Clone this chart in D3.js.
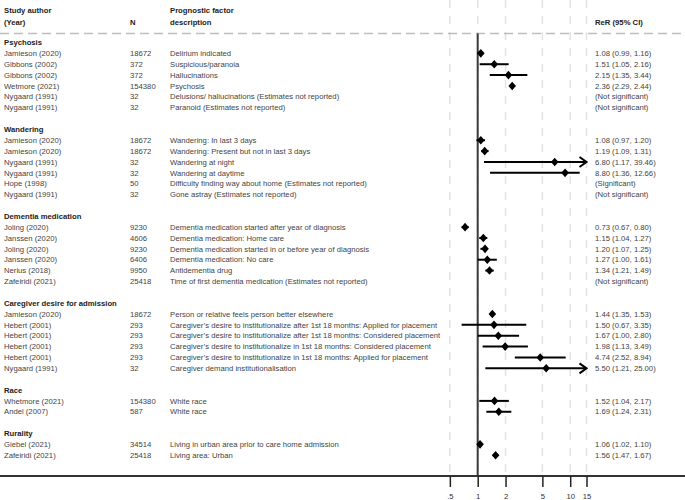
<!DOCTYPE html>
<html>
<head>
<meta charset="utf-8">
<script src="https://cdn.jsdelivr.net/npm/d3@7"></script>
<style>
html,body{margin:0;padding:0;background:#fff;}
svg{display:block;font-family:"Liberation Sans",Arial,sans-serif;}
text{-webkit-font-smoothing:antialiased;}
</style>
</head>
<body>
<svg id="chart" width="685" height="500"></svg>
<script>
const groupNames = ["Psychosis","Wandering","Dementia medication","Caregiver desire for admission","Race","Rurality"];
const groupOf = [0,0,0,0,0,0, 1,1,1,1,1,1, 2,2,2,2,2,2, 3,3,3,3,3,3, 4,4, 5,5];
const authors = ["Jamieson (2020)","Gibbons (2002)","Gibbons (2002)","Wetmore (2021)","Nygaard (1991)","Nygaard (1991)",
  "Jamieson (2020)","Jamieson (2020)","Nygaard (1991)","Nygaard (1991)","Hope (1998)","Nygaard (1991)",
  "Joling (2020)","Janssen (2020)","Joling (2020)","Janssen (2020)","Nerius (2018)","Zafeiridi (2021)",
  "Jamieson (2020)","Hebert (2001)","Hebert (2001)","Hebert (2001)","Hebert (2001)","Nygaard (1991)",
  "Whetmore (2021)","Andel (2007)",
  "Giebel (2021)","Zafeiridi (2021)"];
const ns = ["18672","372","372","154380","32","32",
  "18672","18672","32","32","50","32",
  "9230","4606","9230","6406","9950","25418",
  "18672","293","293","293","293","32",
  "154380","587",
  "34514","25418"];
const descriptions = ["Delirium indicated","Suspicious/paranoia","Hallucinations","Psychosis","Delusions/ hallucinations (Estimates not reported)","Paranoid (Estimates not reported)",
  "Wandering: In last 3 days","Wandering: Present but not in last 3 days","Wandering at night","Wandering at daytime","Difficulty finding way about home (Estimates not reported)","Gone astray (Estimates not reported)",
  "Dementia medication started after year of diagnosis","Dementia medication: Home care","Dementia medication started in or before year of diagnosis","Dementia medication: No care","Antidementia drug","Time of first dementia medication (Estimates not reported)",
  "Person or relative feels person better elsewhere","Caregiver\u2019s desire to institutionalize after 1st 18 months: Applied for placement","Caregiver\u2019s desire to institutionalize after 1st 18 months: Considered placement","Caregiver\u2019s desire to institutionalize in 1st 18 months: Considered placement","Caregiver\u2019s desire to institutionalize in 1st 18 months: Applied for placement","Caregiver demand institutionalisation",
  "White race","White race",
  "Living in urban area prior to care home admission","Living area: Urban"];
const estimates = [1.08,1.51,2.15,2.36,null,null, 1.08,1.19,6.80,8.80,null,null, 0.73,1.15,1.20,1.27,1.34,null, 1.44,1.50,1.67,1.98,4.74,5.50, 1.52,1.69, 1.06,1.56];
const lowers    = [0.99,1.05,1.35,2.29,null,null, 0.97,1.09,1.17,1.36,null,null, 0.67,1.04,1.07,1.00,1.21,null, 1.35,0.67,1.00,1.13,2.52,1.21, 1.04,1.24, 1.02,1.47];
const uppers    = [1.16,2.16,3.44,2.44,null,null, 1.20,1.31,39.46,12.66,null,null, 0.80,1.27,1.25,1.61,1.49,null, 1.53,3.35,2.80,3.49,8.94,25.00, 2.17,2.31, 1.10,1.67];
const ciLabels = ["1.08 (0.99, 1.16)","1.51 (1.05, 2.16)","2.15 (1.35, 3.44)","2.36 (2.29, 2.44)","(Not significant)","(Not significant)",
  "1.08 (0.97, 1.20)","1.19 (1.09, 1.31)","6.80 (1.17, 39.46)","8.80 (1.36, 12.66)","(Significant)","(Not significant)",
  "0.73 (0.67, 0.80)","1.15 (1.04, 1.27)","1.20 (1.07, 1.25)","1.27 (1.00, 1.61)","1.34 (1.21, 1.49)","(Not significant)",
  "1.44 (1.35, 1.53)","1.50 (0.67, 3.35)","1.67 (1.00, 2.80)","1.98 (1.13, 3.49)","4.74 (2.52, 8.94)","5.50 (1.21, 25.00)",
  "1.52 (1.04, 2.17)","1.69 (1.24, 2.31)",
  "1.06 (1.02, 1.10)","1.56 (1.47, 1.67)"];
const xTicks = [0.5,1,2,5,10,15];
const xTickLabels = [".5","1","2","5","10","15"];
const headerCols = [["Study author","(Year)"],["","N"],["Prognostic factor","description"],["","ReR (95% CI)"]];

// build row layout (header rows + blank gaps)
const layout = [];
let idx = 0;
groupNames.forEach((g, gi) => {
  layout.push({type:"header", text:g, row:idx++});
  groupOf.forEach((go, i) => { if (go === gi) layout.push({type:"data", i:i, row:idx++}); });
  idx++; // blank
});
const nRows = idx - 2;

const W = 685, H = 500;
const svg = d3.select("#chart");
const x = d3.scaleLog().domain([0.5, 15]).range([449.85, 586.5]);
const y = d3.scaleLinear().domain([0, nRows]).range([42.5, 455.2]);
const axisY = 476;
const fs = 7.7;
const colX = [4, 130, 170, 595];

// gridlines
svg.append("g").selectAll("line").data(xTicks).join("line")
  .attr("x1", d => x(d)).attr("x2", d => x(d))
  .attr("y1", 0).attr("y2", axisY)
  .attr("stroke", "#e2e2e2").attr("stroke-width", 1.5)
  .attr("stroke-dasharray", "8,8");

// header dashed line
svg.append("line").attr("x1", 0).attr("x2", W).attr("y1", 33.5).attr("y2", 33.5)
  .attr("stroke", "#bdbdbd").attr("stroke-width", 1.5).attr("stroke-dasharray", "9,5");

// null line
svg.append("line").attr("x1", x(1)).attr("x2", x(1)).attr("y1", 33.5).attr("y2", axisY)
  .attr("stroke", "#3a3a3a").attr("stroke-width", 2);

// column headers
const hg = svg.append("g").attr("opacity", 0.999);
headerCols.forEach((pair, ci) => {
  pair.forEach((t, li) => {
    if (!t) return;
    hg.append("text").attr("x", colX[ci]).attr("y", li === 0 ? 10 : 22).attr("dy", "0.35em")
      .attr("font-size", fs).attr("font-weight", "bold").attr("fill", "#222").text(t);
  });
});

// group headers
hg.append("g").selectAll("text").data(layout.filter(d => d.type === "header")).join("text")
  .attr("x", colX[0]).attr("y", d => y(d.row)).attr("dy", "0.35em")
  .attr("font-size", fs).attr("font-weight", "bold").attr("fill", "#222").text(d => d.text);

const dataRows = layout.filter(d => d.type === "data");
const tg = svg.append("g").attr("font-size", fs).attr("fill", "#444").attr("opacity", 0.999);
[authors, ns, descriptions, ciLabels].forEach((arr, ci) => {
  tg.append("g").selectAll("text").data(dataRows).join("text")
    .attr("x", colX[ci]).attr("y", d => y(d.row)).attr("dy", "0.35em")
    .text(d => arr[d.i]);
});

// CIs
const est = dataRows.filter(d => estimates[d.i] != null);
const xMax = 15;
svg.append("g").selectAll("line").data(est).join("line")
  .attr("x1", d => x(lowers[d.i])).attr("x2", d => x(Math.min(uppers[d.i], xMax)))
  .attr("y1", d => y(d.row)).attr("y2", d => y(d.row))
  .attr("stroke", "#000").attr("stroke-width", 2);

// arrows
svg.append("g").selectAll("path").data(est.filter(d => uppers[d.i] > xMax)).join("path")
  .attr("d", d => { const ax = x(xMax), ay = y(d.row); return `M${ax-7},${ay-5}L${ax},${ay}L${ax-7},${ay+5}`; })
  .attr("fill", "none").attr("stroke", "#000").attr("stroke-width", 2);

// diamonds
svg.append("g").selectAll("path").data(est).join("path")
  .attr("transform", d => `translate(${x(estimates[d.i])},${y(d.row)})`)
  .attr("d", "M0,-4.3L3.8,0L0,4.3L-3.8,0Z")
  .attr("fill", "#000");

// axis
svg.append("line").attr("x1", 0).attr("x2", W).attr("y1", axisY).attr("y2", axisY)
  .attr("stroke", "#333").attr("stroke-width", 2);
const ax = svg.append("g").attr("transform", `translate(0,${axisY})`)
  .call(d3.axisBottom(x).tickValues(xTicks).tickFormat((d, i) => xTickLabels[i]).tickSize(11).tickPadding(7));
ax.select(".domain").remove();
ax.selectAll(".tick line").attr("stroke", "#222").attr("stroke-width", 1.5);
ax.selectAll(".tick text").attr("font-size", fs).attr("fill", "#333").attr("opacity", 0.999)
  .attr("font-family", "\"Liberation Sans\",Arial,sans-serif");
</script>
</body>
</html>
